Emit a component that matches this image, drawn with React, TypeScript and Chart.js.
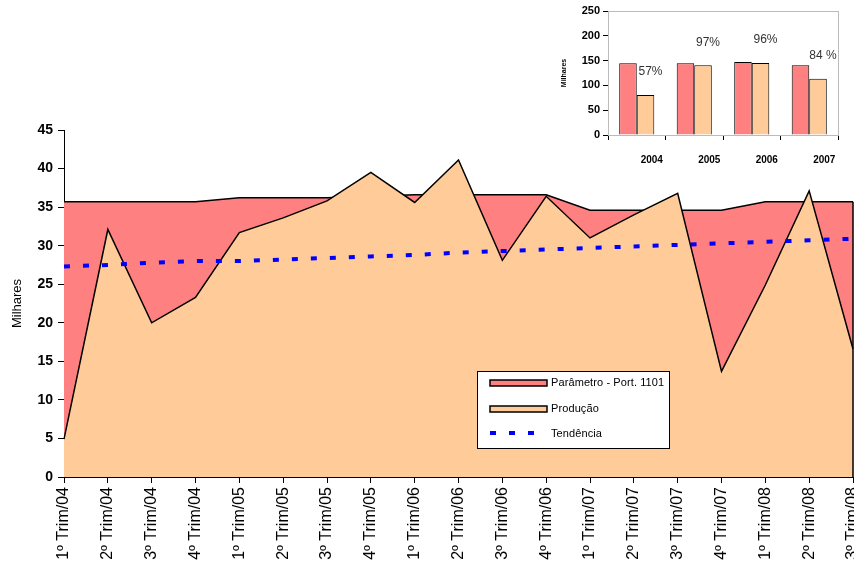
import React, { useEffect, useRef } from "react";
import { Chart, registerables } from "chart.js";

Chart.register(...registerables);
Chart.defaults.font.family = "'Liberation Sans', Arial, sans-serif";
Chart.defaults.color = "#000";

// Quarterly series (thousands)
const trimestres = [
  "1º Trim/04", "2º Trim/04", "3º Trim/04", "4º Trim/04",
  "1º Trim/05", "2º Trim/05", "3º Trim/05", "4º Trim/05",
  "1º Trim/06", "2º Trim/06", "3º Trim/06", "4º Trim/06",
  "1º Trim/07", "2º Trim/07", "3º Trim/07", "4º Trim/07",
  "1º Trim/08", "2º Trim/08", "3º Trim/08",
];
const parametro = [35.7, 35.7, 35.7, 35.7, 36.2, 36.2, 36.2, 36.4, 36.6, 36.6, 36.6, 36.6, 34.6, 34.6, 34.6, 34.6, 35.7, 35.7, 35.7];
const producao = [4.9, 32.1, 20.0, 23.3, 31.7, 33.6, 35.8, 39.5, 35.6, 41.1, 28.1, 36.4, 31.0, 34.0, 36.8, 13.7, 24.9, 37.1, 16.6];
const tendencia = [27.3, 27.5, 27.8, 28.0, 28.0, 28.2, 28.4, 28.6, 28.8, 29.1, 29.3, 29.5, 29.7, 29.9, 30.1, 30.3, 30.5, 30.7, 30.9];

// Yearly totals (thousands)
const anos = ["2004", "2005", "2006", "2007"];
const paramAnual = [144.5, 144.5, 147, 140.5];
const prodAnual = [80.6, 140.5, 145, 113.5];
const percentuais = ["57%", "97%", "96%", "84 %"];

const VERMELHO = "#FF8080";
const LARANJA = "#FFCC99";
const AZUL = "#0000FF";

const legendaPlugin = {
  id: "legendaPlugin",
  afterDraw(chart: any) {
    const ctx = chart.ctx;
    ctx.save();
    // right-hand closing edge of the parameter area
    const xs = chart.scales.x;
    const ys = chart.scales.y;
    const xr = xs.getPixelForValue(parametro.length - 1);
    ctx.strokeStyle = "#000";
    ctx.lineWidth = 1.5;
    ctx.beginPath();
    ctx.moveTo(xr, ys.getPixelForValue(parametro[parametro.length - 1]));
    ctx.lineTo(xr, ys.getPixelForValue(0));
    ctx.stroke();

    // legend box
    const bx = 477, by = 371, bw = 192, bh = 77;
    ctx.fillStyle = "#fff";
    ctx.fillRect(bx, by, bw, bh);
    ctx.strokeStyle = "#000";
    ctx.lineWidth = 1;
    ctx.strokeRect(bx + 0.5, by + 0.5, bw, bh);

    const sx = 490, sw = 57, tx = 551;
    ctx.lineWidth = 1.5;
    ctx.fillStyle = VERMELHO;
    ctx.fillRect(sx, 380, sw, 6);
    ctx.strokeRect(sx, 380, sw, 6);
    ctx.fillStyle = LARANJA;
    ctx.fillRect(sx, 406, sw, 6);
    ctx.strokeRect(sx, 406, sw, 6);

    ctx.strokeStyle = AZUL;
    ctx.lineWidth = 4;
    ctx.setLineDash([6, 13]);
    ctx.beginPath();
    ctx.moveTo(sx, 433);
    ctx.lineTo(sx + sw, 433);
    ctx.stroke();
    ctx.setLineDash([]);

    ctx.fillStyle = "#000";
    ctx.font = "11px 'Liberation Sans', Arial, sans-serif";
    (ctx as any).letterSpacing = "0.1px";
    ctx.textAlign = "left";
    ctx.textBaseline = "middle";
    ctx.fillText("Parâmetro - Port. 1101", tx, 383);
    ctx.fillText("Produção", tx, 409);
    ctx.fillText("Tendência", tx, 434);
    ctx.restore();
  },
};

const moldura = {
  id: "moldura",
  beforeDatasetsDraw(chart: any) {
    const { ctx, chartArea } = chart;
    ctx.save();
    ctx.strokeStyle = "#bbbbbb";
    ctx.lineWidth = 1;
    ctx.strokeRect(chartArea.left + 0.5, chartArea.top + 0.5, chartArea.right - chartArea.left, chartArea.bottom - chartArea.top);
    ctx.restore();
  },
};

const rotulosPct = {
  id: "rotulosPct",
  afterDatasetsDraw(chart: any) {
    const ctx = chart.ctx;
    const meta = chart.getDatasetMeta(1);
    ctx.save();
    ctx.fillStyle = "#333";
    ctx.font = "12px 'Liberation Sans', Arial, sans-serif";
    ctx.textAlign = "center";
    ctx.textBaseline = "middle";
    meta.data.forEach((bar: any, i: number) => {
      ctx.fillText(percentuais[i], bar.x + 5, bar.y - 23);
    });
    ctx.restore();
  },
};

function GraficoPrincipal() {
  const ref = useRef<HTMLCanvasElement>(null);
  useEffect(() => {
    if (!ref.current) return;
    const chart = new Chart(ref.current, {
      type: "line",
      data: {
        labels: trimestres,
        datasets: [
          {
            label: "Tendência",
            data: tendencia,
            borderColor: AZUL,
            borderWidth: 4,
            borderDash: [6, 13],
            borderCapStyle: "butt",
            fill: false,
            pointRadius: 0,
            tension: 0,
          },
          {
            label: "Produção",
            data: producao,
            borderColor: "#000",
            borderWidth: 1.5,
            backgroundColor: LARANJA,
            fill: "origin",
            pointRadius: 0,
            tension: 0,
          },
          {
            label: "Parâmetro - Port. 1101",
            data: parametro,
            borderColor: "#000",
            borderWidth: 1.5,
            backgroundColor: VERMELHO,
            fill: "origin",
            pointRadius: 0,
            tension: 0,
          },
        ],
      },
      options: {
        responsive: false,
        animation: false,
        devicePixelRatio: 1,
        layout: { padding: { top: 130, right: 27, left: 0, bottom: 0 } },
        plugins: { legend: { display: false }, tooltip: { enabled: false } },
        scales: {
          x: {
            offset: false,
            border: { color: "#000", width: 1 },
            grid: { drawOnChartArea: false, drawTicks: true, tickLength: 6, color: "#000" },
            ticks: {
              autoSkip: false,
              minRotation: 90,
              maxRotation: 90,
              padding: 4,
              color: "#000",
              font: { size: 16 },
            },
            afterFit: (s: any) => { s.height = 94; },
          },
          y: {
            min: 0,
            max: 45,
            border: { color: "#000", width: 1 },
            grid: { drawOnChartArea: false, drawTicks: true, tickLength: 6, color: "#000" },
            ticks: { stepSize: 5, padding: 5, color: "#000", font: { size: 14, weight: "bold" } },
            title: { display: true, text: "Milhares", color: "#000", font: { size: 13 }, padding: { top: 10, bottom: 0 } },
            afterFit: (s: any) => { s.width = 64; },
          },
        },
      },
      plugins: [legendaPlugin],
    } as any);
    return () => chart.destroy();
  }, []);
  return <canvas ref={ref} width={880} height={571} style={{ position: "absolute", left: 0, top: 0 }} />;
}

function GraficoAnual() {
  const ref = useRef<HTMLCanvasElement>(null);
  useEffect(() => {
    if (!ref.current) return;
    const chart = new Chart(ref.current, {
      type: "bar",
      data: {
        labels: anos,
        datasets: [
          { label: "Parâmetro", data: paramAnual, backgroundColor: VERMELHO, borderColor: "#000", borderWidth: 1 },
          { label: "Produção", data: prodAnual, backgroundColor: LARANJA, borderColor: "#000", borderWidth: 1 },
        ],
      },
      options: {
        responsive: false,
        animation: false,
        devicePixelRatio: 1,
        datasets: { bar: { categoryPercentage: 0.61, barPercentage: 1 } },
        layout: { padding: { top: 11, right: 16, left: 0, bottom: 0 } },
        plugins: { legend: { display: false }, tooltip: { enabled: false } },
        scales: {
          x: {
            border: { color: "#000", width: 1 },
            grid: { drawOnChartArea: false, drawTicks: true, tickLength: 5, color: "#000" },
            ticks: { labelOffset: 15, padding: 14, color: "#000", font: { size: 10, weight: "bold" } },
            afterFit: (s: any) => { s.height = 40; },
          },
          y: {
            min: 0,
            max: 250,
            border: { color: "#000", width: 1 },
            grid: { drawOnChartArea: false, drawTicks: true, tickLength: 5, color: "#000" },
            ticks: { stepSize: 50, padding: 3, color: "#000", font: { size: 11, weight: "bold" } },
            title: { display: true, text: "Milhares", color: "#000", font: { size: 7, weight: "bold" }, padding: { top: 0, bottom: 0 } },
            afterFit: (s: any) => { s.width = 48; },
          },
        },
      },
      plugins: [moldura, rotulosPct],
    } as any);
    return () => chart.destroy();
  }, []);
  return <canvas ref={ref} width={294} height={175} style={{ position: "absolute", left: 560, top: 0 }} />;
}

export default function App() {
  return (
    <div style={{ position: "fixed", left: 0, top: 0, width: 854, height: 571, overflow: "hidden", background: "#fff" }}>
      <GraficoPrincipal />
      <GraficoAnual />
    </div>
  );
}
